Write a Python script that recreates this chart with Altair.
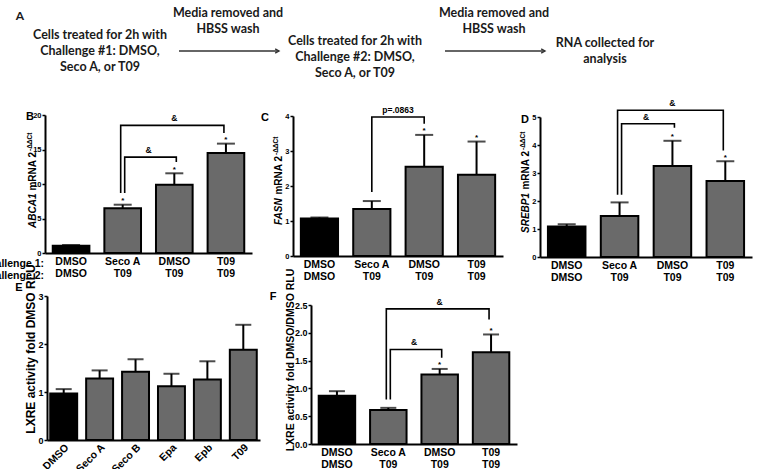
import altair as alt
import pandas as pd

W, H = 763, 469
SANS = "Liberation Sans"
SCHEME_FONT = "Lato"
BAR_GRAY = "#6a6a6a"

# ---------------------------------------------------------------- data
# Two-step challenge groups, written "Challenge 1|Challenge 2"
groups = ["DMSO|DMSO", "Seco A|T09", "DMSO|T09", "T09|T09"]

# B: ABCA1 mRNA 2^-ddCt (mean and top of error bar)
abca1_mean = [1.05, 6.5, 9.9, 14.5]
abca1_upper = [1.15, 7.0, 11.55, 15.85]
abca1_star = [False, True, True, True]

# C: FASN mRNA
fasn_mean = [1.07, 1.34, 2.55, 2.32]
fasn_upper = [1.10, 1.57, 3.46, 3.27]
fasn_star = [False, False, True, True]

# D: SREBP1 mRNA
srebp1_mean = [1.09, 1.46, 3.25, 2.71]
srebp1_upper = [1.17, 1.95, 4.15, 3.42]
srebp1_star = [False, False, True, True]

# E: LXRE reporter, single treatments
compounds = ["DMSO", "Seco A", "Seco B", "Epa", "Epb", "T09"]
lxre_mean = [0.97, 1.28, 1.42, 1.12, 1.26, 1.88]
lxre_upper = [1.06, 1.45, 1.68, 1.38, 1.64, 2.40]
lxre_star = [False] * 6

# F: LXRE reporter, two-step challenge
lxre2_mean = [0.87, 0.61, 1.25, 1.65]
lxre2_upper = [0.95, 0.65, 1.35, 1.97]
lxre2_star = [False, False, True, True]

# comparison brackets: (from, to, leg start, bracket top, leg end, label)
abca1_brackets = [("Seco A|T09", "T09|T09", 8.7, 18.5, 17.4, "&"),
                  ("Seco A|T09", "DMSO|T09", 8.7, 13.9, 13.2, "&")]
fasn_brackets = [("Seco A|T09", "DMSO|T09", 1.83, 3.97, 3.78, "p=.0863")]
srebp1_brackets = [("Seco A|T09", "T09|T09", 2.22, 5.24, 3.80, "&"),
                   ("Seco A|T09", "DMSO|T09", 2.22, 4.76, 4.62, "&")]
lxre2_brackets = [("Seco A|T09", "T09|T09", 0.80, 2.43, 2.24, "&"),
                  ("Seco A|T09", "DMSO|T09", 0.80, 1.70, 1.55, "&")]


# ---------------------------------------------------------------- helpers
def panel(cats, means, uppers, stars, brackets, frame, yticks, yfmt,
          tick_font=7.5, label_angle=0, cap=18, pad_inner=0.29, pad_outer=0.15):
    """One bar panel drawn inside the shared canvas.

    frame = (left px, right px, zero px, top px, axis maximum)
    """
    x0, x1, y_zero, y_top, ymax = frame
    df = pd.DataFrame({
        "group": cats, "mean": means, "upper": uppers, "star": stars,
        "fill": ["#000000"] + [BAR_GRAY] * (len(cats) - 1),
    })

    if label_angle:
        xaxis = alt.Axis(orient="bottom", offset=y_zero - H, title=None, ticks=False,
                         domainColor="black", domainWidth=2, labelAngle=label_angle,
                         labelAlign="right", labelBaseline="top",
                         labelFont=SANS, labelFontSize=10.5, labelFontWeight="bold",
                         labelColor="black", labelPadding=2)
    else:
        xaxis = alt.Axis(orient="bottom", offset=y_zero - H, title=None, ticks=False,
                         domainColor="black", domainWidth=2, labelAngle=0,
                         labelExpr="split(datum.label, '|')",
                         labelFont=SANS, labelFontSize=10.5, labelFontWeight="bold",
                         labelColor="black", labelPadding=3, labelLineHeight=12)
    yaxis = alt.Axis(orient="left", offset=-x0, title=None, grid=False, values=yticks,
                     format=yfmt, tickSize=3, tickWidth=1.5, tickColor="black",
                     domainColor="black", domainWidth=2, labelFont=SANS,
                     labelFontSize=tick_font, labelFontWeight="bold", labelColor="black",
                     labelPadding=1)

    xs = alt.Scale(domain=cats, range=[x0, x1], paddingInner=pad_inner, paddingOuter=pad_outer)
    ys = alt.Scale(domain=[0, ymax], range=[y_zero, y_top], nice=False)
    X = alt.X("group:N", scale=xs, axis=xaxis, sort=cats)

    def Y(field):
        return alt.Y(f"{field}:Q", scale=ys, axis=yaxis)

    base = alt.Chart(df)
    layers = [
        base.mark_bar(stroke="black", strokeWidth=2).encode(
            x=X, y=Y("mean"), fill=alt.Fill("fill:N", scale=None)),
        base.mark_rule(color="black", strokeWidth=2).encode(
            x=X, y=Y("mean"), y2="upper:Q"),
        base.mark_tick(color="black", thickness=2, size=cap).encode(x=X, y=Y("upper")),
        base.transform_filter("datum.star").mark_text(
            text="*", font=SANS, fontSize=8, fontWeight="bold", baseline="alphabetic",
            dy=-1.5, color="black").encode(x=X, y=Y("upper")),
    ]

    step = (x1 - x0) / (len(cats) - pad_inner + 2 * pad_outer)
    offsets = [0] if len(brackets) == 1 else [-2, 2]
    for (a, b, leg0, top, leg1, label), off in zip(brackets, offsets):
        path = pd.DataFrame({"group": [a, a, b, b], "val": [leg0, top, top, leg1],
                             "o": [0, 1, 2, 3]})
        layers.append(alt.Chart(path).mark_line(color="black", strokeWidth=1.6, xOffset=off)
                      .encode(x=X, y=Y("val"), order="o:Q"))
        span = cats.index(b) - cats.index(a)
        lab = pd.DataFrame({"group": [a], "val": [top]})
        layers.append(alt.Chart(lab).mark_text(
            text=label, font=SANS, fontSize=8.5, fontWeight="bold",
            baseline="bottom", dy=-2, dx=span * step / 2, color="black")
            .encode(x=X, y=Y("val")))
    return alt.layer(*layers)


def texts(rows, **style):
    """Free text placed on the canvas: rows of (text, x, y)."""
    df = pd.DataFrame(rows, columns=["t", "px", "py"])
    return alt.Chart(df).mark_text(**style).encode(
        x=alt.X("px:Q", scale=None, axis=None),
        y=alt.Y("py:Q", scale=None, axis=None),
        text="t:N")


# ---------------------------------------------------------------- panel A (scheme)
scheme_lines = [
    ("Cells treated for 2h with", 100, 35), ("Challenge #1: DMSO,", 100, 51), ("Seco A, or T09", 100, 67),
    ("Media removed and", 228, 13), ("HBSS wash", 228, 29),
    ("Cells treated for 2h with", 355, 41), ("Challenge #2: DMSO,", 355, 57), ("Seco A, or T09", 355, 73),
    ("Media removed and", 494, 13), ("HBSS wash", 494, 29),
    ("RNA collected for", 605, 43), ("analysis", 605, 59),
]
arrows = pd.DataFrame({"x0": [179, 445], "x1": [279, 545], "y": [51, 51]})

scheme = [
    texts(scheme_lines, font=SCHEME_FONT, fontSize=12.5, fontWeight="bold", color="#1a1a1a",
          align="center", baseline="middle"),
    texts([("A", 20, 16)], font=SCHEME_FONT, fontSize=12, fontWeight="bold", color="#1a1a1a",
          align="center", baseline="middle"),
    alt.Chart(arrows).mark_rule(color="#333333", strokeWidth=1.4).encode(
        x=alt.X("x0:Q", scale=None, axis=None), x2="x1:Q",
        y=alt.Y("y:Q", scale=None, axis=None)),
    alt.Chart(arrows).mark_point(shape="M-1.4,-0.8L0,0L-1.4,0.8", filled=False, size=30,
                                 color="#333333", strokeWidth=1.4, opacity=1).encode(
        x=alt.X("x1:Q", scale=None, axis=None), y=alt.Y("y:Q", scale=None, axis=None)),
]

# ---------------------------------------------------------------- panels B-F
pB = panel(groups, abca1_mean, abca1_upper, abca1_star, abca1_brackets,
           (45, 252, 253, 115, 20), [0, 5, 10, 15, 20], "d")
pC = panel(groups, fasn_mean, fasn_upper, fasn_star, fasn_brackets,
           (293, 503, 256, 116, 4), [0, 1, 2, 3, 4], "d")
pD = panel(groups, srebp1_mean, srebp1_upper, srebp1_star, srebp1_brackets,
           (540, 752, 257, 117, 5), [0, 1, 2, 3, 4, 5], "d")
pE = panel(compounds, lxre_mean, lxre_upper, lxre_star, [],
           (47, 260, 440, 296, 3), [0, 1, 2, 3], "d", tick_font=9,
           label_angle=315, cap=16, pad_inner=0.25, pad_outer=0.09)
pF = panel(groups, lxre2_mean, lxre2_upper, lxre2_star, lxre2_brackets,
           (311, 517, 444, 305, 2.5), [0, 0.5, 1.0, 1.5, 2.0, 2.5], ".1f", tick_font=9,
           cap=16)

bold = dict(font=SANS, fontWeight="bold", color="black")

labels = [
    texts([("B", 30, 117), ("C", 265, 118), ("D", 525, 120), ("E", 19, 288), ("F", 273, 297)],
          fontSize=11, align="center", baseline="middle", **bold),
    texts([("Challenge 1:", 44, 259), ("Challenge 2:", 44, 271)],
          fontSize=10.5, align="right", baseline="top", **bold),
    # rotated axis titles: gene name (italic), rest, superscript
    texts([("ABCA1", 33, 228), ("FASN", 279, 225), ("SREBP1", 526, 233)],
          fontSize=10, angle=270, align="left", baseline="middle", fontStyle="italic", **bold),
    texts([(" mRNA 2", 33, 152), (" mRNA 2", 279, 156), (" mRNA 2", 526, 151)],
          fontSize=10, angle=270, align="right", baseline="middle", **bold),
    texts([("-ΔΔCt", 30, 151), ("-ΔΔCt", 276, 155), ("-ΔΔCt", 523, 150)],
          fontSize=6.5, angle=270, align="left", baseline="middle", **bold),
    texts([("LXRE activity fold DMSO RLU", 31, 349)],
          fontSize=12, angle=270, align="center", baseline="middle", **bold),
    texts([("LXRE activity fold DMSO/DMSO RLU", 291, 360)],
          fontSize=10.5, angle=270, align="center", baseline="middle", **bold),
]

chart = (
    alt.layer(*scheme, pB, pC, pD, pE, pF, *labels)
    .resolve_scale(x="independent", y="independent")
    .resolve_axis(x="independent", y="independent")
    .properties(width=W, height=H, padding=0, autosize=alt.AutoSizeParams(type="none"),
                background="white")
    .configure_view(stroke=None)
)

chart.save("out.html", embed_options={"renderer": "svg", "actions": False})
